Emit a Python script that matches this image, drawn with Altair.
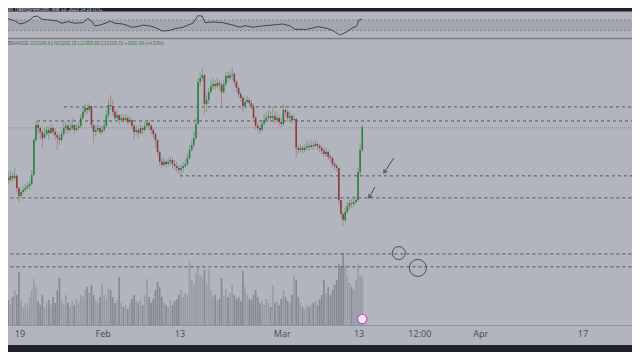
import altair as alt
import pandas as pd

W, H = 624, 344

# ---------------- data (BTC/USDT, 8-hour candles from 2023-01-16 00:00 UTC) ----------------
OPEN_FIRST = 21100
CLOSE = [21210,21100,21280,21210,21360,21280,21360,20920,20630,20770,
         20850,20920,20990,21060,21390,22670,23210,23100,22960,22740,
         22880,23030,22920,23100,22960,22850,22740,22670,22880,23100,
         23180,23030,23100,23210,23030,23100,23180,23470,23690,23830,
         23760,23900,23210,22960,23030,23100,22960,23030,23180,23580,
         23940,23900,23690,23470,23580,23390,23470,23390,23470,23320,
         23390,23180,22960,23030,22920,23100,23030,23180,23290,23180,
         23030,22880,22670,22230,21870,21760,21870,21790,21870,21940,
         21790,21720,21650,21570,21650,21720,21790,22010,22300,22480,
         22740,23250,24780,24920,25030,23980,24120,24410,24630,24700,
         24630,24740,24670,24410,24700,25000,24920,25030,25070,24780,
         24560,24340,24200,23900,24050,24120,24010,23900,23470,23180,
         23100,23030,23250,23390,23470,23540,23470,23540,23390,23470,
         23320,23250,23760,23690,23470,23540,23390,23430,22380,22300,
         22380,22300,22380,22450,22410,22480,22450,22520,22450,22380,
         22270,22160,22230,22050,22010,21790,21720,21650,20480,19970,
         19750,20050,20260,20370,20340,20410,20480,21500,22300,23140]
HIGH = [21360,21280,21650,21500,21570,21500,21650,21430,20990,20850,
        20990,21060,21140,21210,21570,22740,23360,23320,23180,23030,
        23100,23180,23140,23250,23180,23100,22960,22880,23030,23390,
        23320,23250,23320,23470,23250,23250,23320,23610,23830,23980,
        23940,24010,23900,23250,23180,23250,23180,23210,23390,23760,
        24120,24300,24120,23830,23760,23610,23610,23580,23610,23540,
        23540,23470,23250,23180,23100,23250,23180,23320,23390,23390,
        23250,23100,22960,22670,22300,22010,22010,21940,22010,22080,
        22010,21940,21870,21760,21790,21870,21940,22160,22480,22670,
        22960,23470,24920,25140,25290,25070,24300,24560,24850,24920,
        24850,24920,24850,24780,24850,25140,25140,25210,25320,25140,
        24850,24630,24410,24270,24200,24270,24200,24120,23980,23540,
        23320,23250,23390,23610,23690,23760,23690,23900,23690,23690,
        23580,23470,24010,23900,23760,23690,23610,23580,23470,22480,
        22520,22450,22520,22670,22590,22670,22590,22670,22590,22520,
        22450,22380,22380,22300,22160,22080,21870,21790,21650,20480,
        20050,20190,20410,20480,20520,20560,20590,21650,22560,23210]
LOW = [21030,20920,21060,21060,21140,21140,21210,20770,20410,20550,
       20700,20770,20850,20850,20990,21360,22590,22880,22670,22380,
       22670,22810,22670,22880,22810,22670,22300,22480,22590,22810,
       22960,22880,22960,23030,22880,22960,23030,23100,23390,23610,
       23610,23690,23100,22560,22810,22960,22850,22880,22960,23100,
       23470,23760,23540,23390,23390,23250,23320,23290,23320,23210,
       23250,23030,22670,22850,22740,22880,22880,22960,23100,23030,
       22880,22740,22380,22080,21720,21650,21720,21650,21720,21760,
       21650,21570,21500,21430,21360,21500,21650,21720,21940,22230,
       22380,22670,23250,24630,24780,23580,23690,23980,24340,24490,
       24490,24560,24490,23940,24340,24630,24780,24850,24850,24630,
       24410,24200,24050,23690,23830,23980,23870,23760,23320,23030,
       22960,22880,22960,23180,23320,23390,23320,23320,23250,23320,
       23180,23140,23180,23540,23320,23390,23250,23320,22010,22160,
       22230,22190,22230,22300,22270,22340,22300,22380,22300,22230,
       22120,22050,22050,21940,21870,21650,21570,21500,20300,19830,
       19540,19680,19970,20120,20190,20260,20340,20410,21390,22230]
VOLUME_K = [22,30,18,25,20,28,35,30,53,
            25,18,22,20,28,35,46,38,
            24,20,30,18,22,25,20,28,
            22,35,47,25,20,30,22,
            18,24,20,26,22,30,28,35,38,
            32,40,30,25,22,28,42,
            30,26,37,35,28,22,25,48,
            22,18,20,16,22,26,30,24,
            22,25,20,30,46,28,22,26,
            35,43,38,28,22,20,18,25,
            20,24,26,30,35,28,32,30,
            64,45,40,52,57,50,48,55,
            40,56,35,28,30,25,26,47,
            30,36,28,32,40,30,26,28,
            24,54,38,30,26,25,30,35,
            28,22,24,20,26,22,18,40,
            22,24,20,26,35,28,24,22,
            30,50,45,28,22,18,16,20,
            18,20,22,24,20,26,30,45,
            32,38,30,35,40,45,61,58,
            72,60,48,42,38,35,45,61,50,48]

RSI_TIME = ["2023-01-16T00:00","2023-01-17T00:00","2023-01-18T05:00","2023-01-19T00:00","2023-01-19T19:00",
            "2023-01-20T13:00","2023-01-21T01:00","2023-01-21T16:00","2023-01-22T11:00","2023-01-23T16:00",
            "2023-01-24T19:00","2023-01-25T13:00","2023-01-26T12:00","2023-01-27T14:00","2023-01-28T20:00",
            "2023-01-29T15:00","2023-01-30T06:00","2023-01-30T17:00","2023-01-31T12:00","2023-02-01T14:00",
            "2023-02-02T01:00","2023-02-02T20:00","2023-02-04T02:00","2023-02-05T12:00","2023-02-06T07:00",
            "2023-02-07T05:00","2023-02-08T07:00","2023-02-09T10:00","2023-02-10T05:00","2023-02-11T03:00",
            "2023-02-12T13:00","2023-02-13T11:00","2023-02-14T06:00","2023-02-15T01:00","2023-02-15T19:00",
            "2023-02-16T11:00","2023-02-16T22:00","2023-02-18T04:00","2023-02-19T17:00","2023-02-21T07:00",
            "2023-02-22T09:00","2023-02-23T04:00","2023-02-24T10:00","2023-02-25T23:00","2023-02-27T09:00",
            "2023-03-01T02:00","2023-03-02T05:00","2023-03-02T23:00","2023-03-04T20:00","2023-03-06T13:00",
            "2023-03-07T23:00","2023-03-08T22:00","2023-03-10T00:00","2023-03-10T19:00","2023-03-11T21:00",
            "2023-03-12T16:00","2023-03-12T23:00","2023-03-13T11:00"]
RSI_VAL = [80,76,67,55,60,70,82,85,73,70,66,58,64,58,60,76,64,48,51,60,
           66,58,55,43,45,51,48,39,29,30,39,43,51,58,86,85,60,63,60,51,
           43,49,43,48,51,55,48,35,35,45,39,30,14,22,39,48,70,73]

LEVEL_START = ["2023-01-25T21:00","2023-01-21T16:00","2023-02-13T00:00","2023-01-10T00:00","2023-01-10T00:00","2023-01-10T00:00"]
LEVEL_PRICE = [23870, 23360, 21360, 20560, 18520, 18050]
LAST_PRICE = 23108.33

ARROW_FROM_T = ["2023-03-18T10:30", "2023-03-15T11:15"]
ARROW_FROM_P = [22010, 20955]
ARROW_TO_T = ["2023-03-16T21:00", "2023-03-14T12:45"]
ARROW_TO_P = [21465, 20555]
ARROW_ANGLE = [33, 30]

CIRCLE_T = ["2023-03-19T05:00", "2023-03-22T04:30"]
CIRCLE_P = [18550, 18010]
CIRCLE_D = [13, 17]

AXIS_LABELS = ["19", "Feb", "13", "Mar", "13", "12:00", "Apr", "17"]
AXIS_DATES = ["2023-01-19T00:00", "2023-02-01T00:00", "2023-02-13T00:00", "2023-03-01T00:00",
              "2023-03-13T00:00", "2023-03-22T12:00", "2023-04-01T00:00", "2023-04-17T00:00"]

STATUS_SYMBOL = "BINANCE"
STATUS_VALUES = "O22106.63  H23200.15  L21959.80  C23108.33  +1001.69 (+4.53%)"
TOP_TEXT = "on TradingView.com, Mar 13, 2023 14:19 UTC"

# ---------------- styles ----------------
BG = "#b2b5be"
DARK = "#1e222d"
GREEN, GREEN_WICK = "#2f7d3f", "#6a9a72"
RED, RED_WICK = "#8a3a3c", "#a07c80"
GRID = "#53565e"


def z(s):
    return s + ":00Z" if len(s) == 16 else s


def ms(s):
    return int(pd.Timestamp(s, tz="UTC").value // 10**6)


n = min(len(CLOSE), len(HIGH), len(LOW), len(VOLUME_K))
start = pd.Timestamp("2023-01-16T00:00:00", tz="UTC")
candles = pd.DataFrame({
    "t": [(start + pd.Timedelta(hours=8 * i + 4)).strftime("%Y-%m-%dT%H:%M:%SZ") for i in range(n)],
    "open": [OPEN_FIRST] + CLOSE[: n - 1],
    "close": CLOSE[:n],
    "high": HIGH[:n],
    "low": LOW[:n],
    "vol": VOLUME_K[:n],
})
candles["v0"] = 0

XS = alt.Scale(type="utc", domain=[ms("2023-01-19"), ms("2023-04-17")], range=[12, 575])
PS = alt.Scale(domain=[19000, 26000], range=[232.7, 40.4], zero=False, nice=False)
RS = alt.Scale(domain=[0, 100], range=[30.7, 4], zero=False, nice=False)
VS = alt.Scale(domain=[0, 100], range=[317, 217], zero=False, nice=False)


def X(f):
    return alt.X(f, scale=XS, axis=None)


def dummy():
    return alt.Chart(alt.Data(values=[{"a": 1}]))


up = "datum.close >= datum.open"

layers = []
# RSI panel band and its bounds
layers.append(dummy().mark_rect(color="#a3a6af").encode(
    x=alt.value(0), x2=alt.value(W),
    y=alt.Y("hi:Q", scale=RS, axis=None), y2="lo:Q").transform_calculate(hi="70", lo="30"))
for lv in (70, 30):
    layers.append(dummy().mark_rule(color="#858891", strokeDash=[2, 2], strokeWidth=1).encode(
        x=alt.value(0), x2=alt.value(W),
        y=alt.Y("v:Q", scale=RS, axis=None)).transform_calculate(v=str(lv)))
rsi = pd.DataFrame({"t": [z(s) for s in RSI_TIME], "rsi": RSI_VAL})
layers.append(alt.Chart(rsi).mark_line(color="#42454d", strokeWidth=1).encode(
    x=X("t:T"), y=alt.Y("rsi:Q", scale=RS, axis=None)))

# panel separator and top bar
layers.append(dummy().mark_rule(color="#7b7e87", strokeWidth=1.6).encode(
    x=alt.value(0), x2=alt.value(W), y=alt.value(30.5)))
layers.append(dummy().mark_rect(color=DARK).encode(
    x=alt.value(0), x2=alt.value(W), y=alt.value(0), y2=alt.value(3.5)))

# volume
layers.append(alt.Chart(candles).mark_rule(strokeWidth=1.7).encode(
    x=X("t:T"), y=alt.Y("vol:Q", scale=VS, axis=None), y2="v0:Q",
    color=alt.condition(up, alt.value("#9a9ca5"), alt.value("#878a92"))))

# levels
levels = pd.DataFrame({"start": [z(s) for s in LEVEL_START], "price": LEVEL_PRICE})
layers.append(alt.Chart(levels).mark_rule(color=GRID, strokeDash=[3, 3], strokeWidth=1).encode(
    x=X("start:T"), x2=alt.value(W), y=alt.Y("price:Q", scale=PS, axis=None)))
layers.append(dummy().mark_rule(color="#8d9098", strokeDash=[1, 1], strokeWidth=1).encode(
    x=alt.value(0), x2=alt.value(W), y=alt.Y("p:Q", scale=PS, axis=None)).transform_calculate(p=str(LAST_PRICE)))

# candles
layers.append(alt.Chart(candles).mark_rule(strokeWidth=0.8).encode(
    x=X("t:T"), y=alt.Y("low:Q", scale=PS, axis=None), y2="high:Q",
    color=alt.condition(up, alt.value(GREEN_WICK), alt.value(RED_WICK))))
layers.append(alt.Chart(candles).mark_rule(strokeWidth=1.6).encode(
    x=X("t:T"), y=alt.Y("open:Q", scale=PS, axis=None), y2="close:Q",
    color=alt.condition(up, alt.value(GREEN), alt.value(RED))))

# annotations
arrows = pd.DataFrame({"t1": [z(s) for s in ARROW_FROM_T], "p1": ARROW_FROM_P,
                       "t2": [z(s) for s in ARROW_TO_T], "p2": ARROW_TO_P, "ang": ARROW_ANGLE})
layers.append(alt.Chart(arrows).mark_rule(color="#4a4d55", strokeWidth=1).encode(
    x=X("t1:T"), x2="t2:T", y=alt.Y("p1:Q", scale=PS, axis=None), y2="p2:Q"))
layers.append(alt.Chart(arrows).mark_point(shape="M-0.6,-1L0,0L0.6,-1", filled=False, size=46,
                                           color="#4a4d55", strokeWidth=1, opacity=1).encode(
    x=X("t2:T"), y=alt.Y("p2:Q", scale=PS, axis=None), angle=alt.Angle("ang:Q", scale=None)))
circles = pd.DataFrame({"t": [z(s) for s in CIRCLE_T], "p": CIRCLE_P, "d": [d * d for d in CIRCLE_D]})
layers.append(alt.Chart(circles).mark_point(shape="circle", filled=False, color="#4a4d55",
                                            strokeWidth=1, opacity=1).encode(
    x=X("t:T"), y=alt.Y("p:Q", scale=PS, axis=None), size=alt.Size("d:Q", scale=None)))

# event marker
ev = pd.DataFrame({"t": ["2023-03-13T12:00:00Z"]})
layers.append(alt.Chart(ev).mark_point(shape="circle", filled=True, fill="#f1e4f4", stroke="#b455c4",
                                       strokeWidth=1.2, size=90, opacity=1).encode(
    x=X("t:T"), y=alt.value(311)))

# time axis
layers.append(dummy().mark_rule(color="#8f929a", strokeWidth=1).encode(
    x=alt.value(0), x2=alt.value(W), y=alt.value(317.5)))
axis_df = pd.DataFrame({"t": [z(s) for s in AXIS_DATES], "label": AXIS_LABELS})
layers.append(alt.Chart(axis_df).mark_text(fontSize=9, font="Noto Sans", color="#4f525a",
                                           baseline="middle", align="center").encode(
    x=X("t:T"), y=alt.value(326), text="label:N"))
layers.append(dummy().mark_rect(color=DARK).encode(
    x=alt.value(0), x2=alt.value(W), y=alt.value(337), y2=alt.value(H)))

# status texts
layers.append(dummy().mark_text(fontSize=4.6, font="Liberation Sans", color="#55585f", align="left",
                                baseline="middle").encode(
    x=alt.value(0), y=alt.value(36), text=alt.value(STATUS_SYMBOL)))
layers.append(dummy().mark_text(fontSize=4.6, font="Liberation Sans", color="#3f7a48", align="left",
                                baseline="middle").encode(
    x=alt.value(22), y=alt.value(36), text=alt.value(STATUS_VALUES)))
layers.append(dummy().mark_text(fontSize=4.6, font="Liberation Sans", color="#d1d4dc", align="left",
                                baseline="middle").encode(
    x=alt.value(0), y=alt.value(1.8), text=alt.value(TOP_TEXT)))

chart = alt.layer(*layers).resolve_scale(y="independent").properties(
    width=W, height=H, padding=0, autosize="none", background=BG
).configure_view(stroke=None)

chart.save("out.html", embed_options={"renderer": "svg", "actions": False})
